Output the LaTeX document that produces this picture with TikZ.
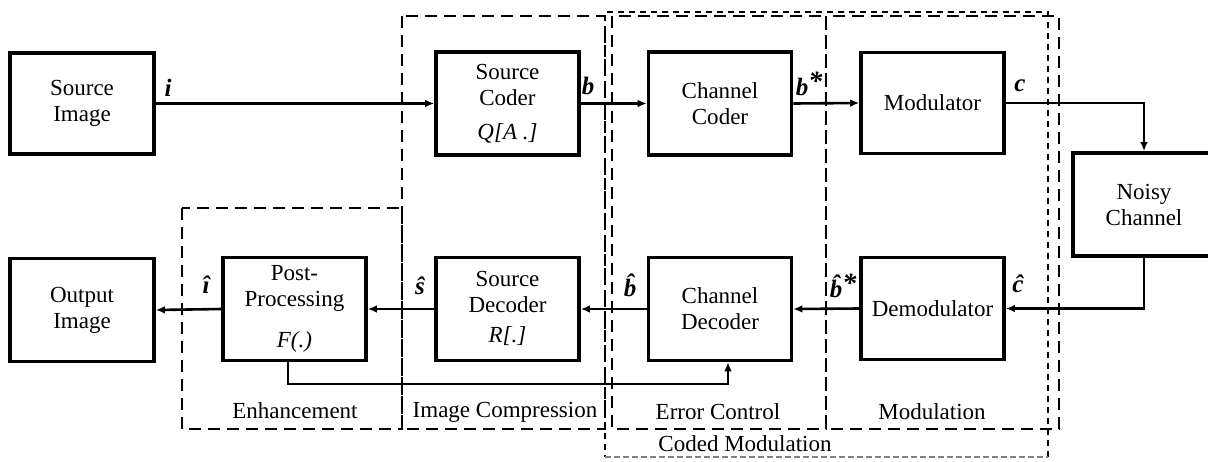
\documentclass[tikz,border=0pt]{standalone}
\usepackage{fontspec}
\setmainfont{Liberation Serif}
\usetikzlibrary{arrows.meta}
\tikzset{
  blk/.style={draw, line width=1.8pt, minimum width=71.5pt, minimum height=51.5pt,
    inner sep=0pt, align=center, font=\fontsize{11.5}{13}\selectfont},
  conn/.style={line width=1.3pt},
  arr/.style={conn, -{Latex[length=4.5pt,width=3.8pt]}},
  sig/.style={inner sep=0pt, font=\fontsize{12.5}{14}\selectfont\bfseries\itshape},
  fml/.style={inner sep=0pt, font=\fontsize{11.5}{13}\selectfont\itshape},
  grp/.style={line width=1.4pt, dash pattern=on 6pt off 3.5pt},
  cgrp/.style={line width=1.4pt, dash pattern=on 3pt off 2.5pt},
  glab/.style={inner sep=0pt, font=\fontsize{11.5}{13}\selectfont},
}
\newcommand\starsup{\raisebox{0.45ex}{\fontsize{14}{14}\selectfont *}}
\begin{document}
\begin{tikzpicture}[x=0.5pt,y=-0.5pt]
\useasboundingbox (0,0) rectangle (1208,461);
% group boxes
\draw[grp] (182,208) rectangle (402,429);
\draw[grp] (402,16) rectangle (605,429);
\draw[grp] (612,16) rectangle (826,429);
\draw[grp] (826,16) rectangle (1059,429);
\draw[cgrp] (1048,457) -- (1048,12) -- (605,12) -- (605,457);
\draw[line width=0.7pt, gray, dash pattern=on 3pt off 1.5pt] (605,457) -- (1048,457);
% blocks
\node[blk, minimum width=72pt, minimum height=50.5pt] (src) at (82,103.5) {Source\\Image};
\node[blk, minimum height=51.5pt] (scoder) at (507.5,103.5) {};
\node[blk] (ccoder) at (720,103.5) {Channel\\Coder};
\node[blk, minimum height=50.5pt] (mod) at (932.5,103) {Modulator};
\node[blk, minimum width=71pt] (noisy) at (1144,204.5) {Noisy\\Channel};
\node[blk, minimum width=72pt] (out) at (82,310) {Output\\Image};
\node[blk] (post) at (294.5,309) {};
\node[blk] (sdec) at (507.5,309) {};
\node[blk] (cdec) at (720,309) {Channel\\Decoder};
\node[blk, minimum height=51pt] (demod) at (932.5,308.5) {Demodulator};
% block texts
\node[glab, align=center] (sct) at (507.5,85) {Source\\Coder};
\node[fml] (scf) at (507.5,133) {Q[A .]};
\node[glab, align=center] (ppt) at (294.5,288) {Post-\\Processing};
\node[fml] (ppf) at (294.5,342) {F(.)};
\node[glab, align=center] (sdt) at (507.5,292) {Source\\Decoder};
\node[fml] (sdf) at (507.5,336) {R[.]};
% connectors
\draw[arr] (src.east) -- (scoder.west);
\draw[arr] (scoder.east) -- (ccoder.west);
\draw[arr] (ccoder.east) -- (mod.west);
\draw[arr] (mod.east) -| (noisy.north);
\draw[arr] (noisy.south) |- (demod.east);
\draw[arr] (demod.west) -- (cdec.east);
\draw[arr] (cdec.west) -- (sdec.east);
\draw[arr] (sdec.west) -- (post.east);
\draw[arr] (post.west) -- (out.east);
\coordinate (fb1) at (288,384);
\coordinate (fb2) at (728,384);
\draw[arr] (post.south -| fb1) -- (fb1) -- (fb2) -- (cdec.south -| fb2);
% signal labels
\node[sig] (li) at (168,88) {i};
\node[sig] (lb) at (588,86) {b};
\node[sig] (lbs) at (809,84) {b\starsup};
\node[sig] (lc) at (1020,86) {c};
\node[sig] (lch) at (1018,284) {\^c};
\node[sig] (lbhs) at (843,286) {\^b\starsup};
\node[sig] (lbh) at (630,285) {\^b};
\node[sig] (lsh) at (420,286) {\^s};
\node[sig] (lih) at (206,285) {\^{\i}};
% group labels
\node[glab] (genh) at (295,411) {Enhancement};
\node[glab] (gic) at (505,412) {Image Compression};
\node[glab] (gec) at (718,412) {Error Control};
\node[glab] (gmod) at (932,412) {Modulation};
\node[glab] (gcm) at (745,444) {Coded Modulation};
\end{tikzpicture}
\end{document}
